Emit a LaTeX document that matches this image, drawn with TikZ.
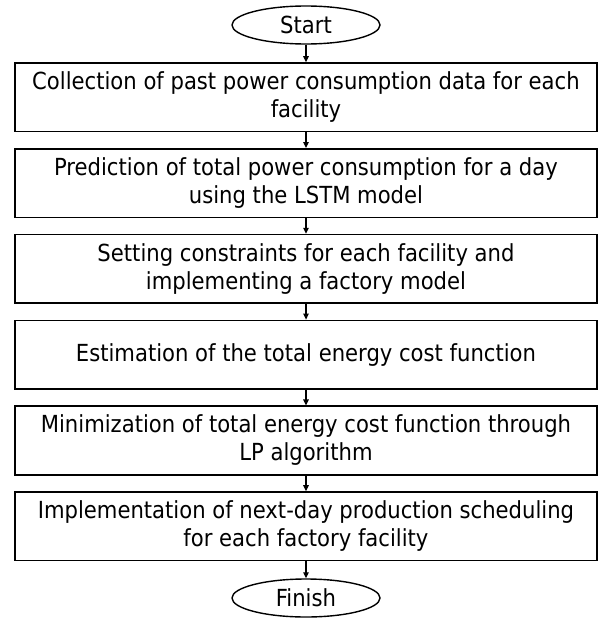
\documentclass[tikz,border=0pt]{standalone}
\usepackage{fontspec}
\setmainfont{DejaVu Sans Condensed}
\usetikzlibrary{shapes.geometric,arrows.meta}
\begin{document}
\begin{tikzpicture}[x=1pt,y=-1pt,
  stepbox/.style={draw,line width=1.6pt,rectangle,minimum width=582pt,minimum height=68.5pt,
    inner sep=0pt,align=center,font=\fontsize{23.5}{28}\selectfont},
  terminal/.style={draw,line width=1.4pt,ellipse,minimum width=148pt,minimum height=38pt,
    inner sep=0pt,font=\fontsize{23.5}{28}\selectfont},
  flow/.style={line width=1.2pt,-{Triangle[length=6pt,width=5.5pt]}}]
\fill[white] (0,0) rectangle (599,618);
\useasboundingbox (0,0) rectangle (599,618);

% terminals
\node[terminal] (start) at (306,25) {Start};
\node[terminal] (finish) at (306,598) {Finish};

% process steps, top to bottom
\node[stepbox] (s1) at (306,97.25) {Collection of past power consumption data for each\\facility};
\node[stepbox] (s2) at (306,183.05) {Prediction of total power consumption for a day\\using the LSTM model};
\node[stepbox] (s3) at (306,268.85) {Setting constraints for each facility and\\implementing a factory model};
\node[stepbox] (s4) at (306,354.65) {Estimation of the total energy cost function};
\node[stepbox] (s5) at (306,440.45) {Minimization of total energy cost function through\\LP algorithm};
\node[stepbox] (s6) at (306,526.25) {Implementation of next-day production scheduling\\for each factory facility};

% connectors
\draw[flow] (start) -- (s1);
\draw[flow] (s1) -- (s2);
\draw[flow] (s2) -- (s3);
\draw[flow] (s3) -- (s4);
\draw[flow] (s4) -- (s5);
\draw[flow] (s5) -- (s6);
\draw[flow] (s6) -- (finish);
\end{tikzpicture}
\end{document}
